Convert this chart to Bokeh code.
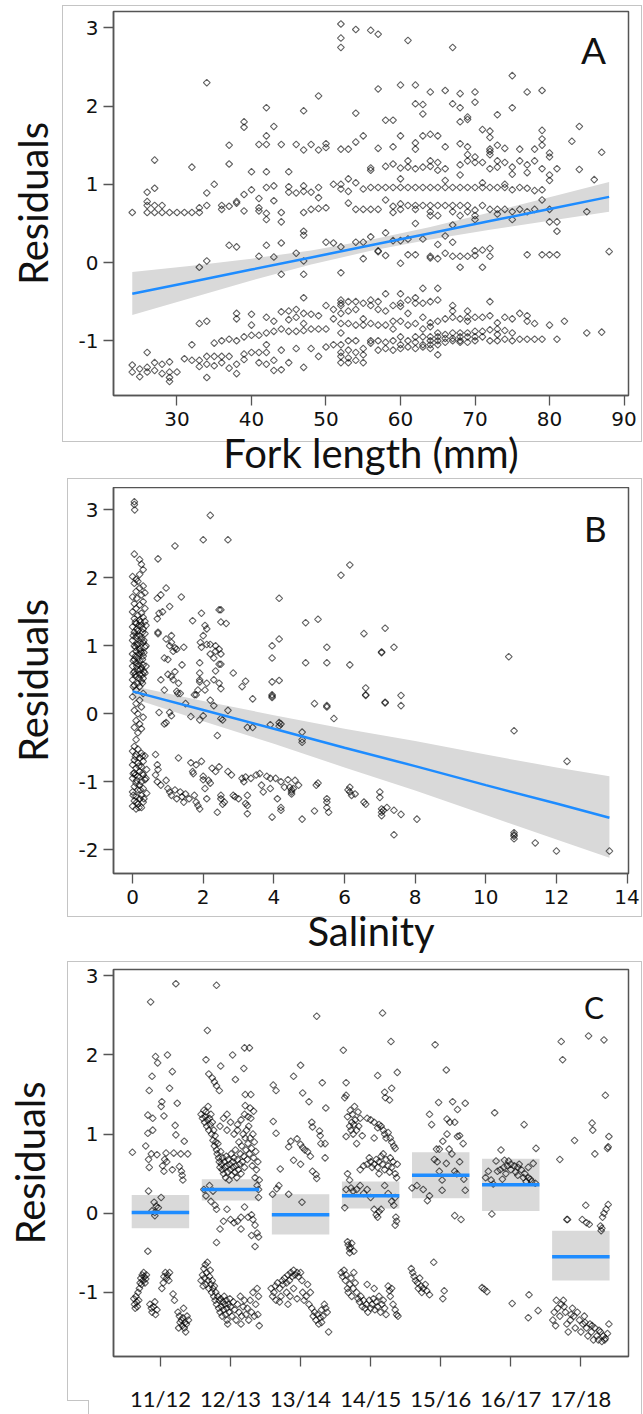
import numpy as np
from bokeh.plotting import figure
from bokeh.layouts import column
from bokeh.models import Range1d, FixedTicker, Label
from bokeh.embed import file_html
from bokeh.resources import INLINE

# ---------------- Panel A data (fork length mm, residual) ----------------
a_high = [(52,3.05),(52,2.87),(52,2.75),(54,2.98),(56,2.97),(57,2.92),(61,2.84),(67,2.75),
 (34,2.30),(75,2.39),(49,2.13),(57,2.22),(60,2.27),(62,2.27),(64,2.18),(66,2.20),(68,2.16),(70,2.18),(70,2.05),(77,2.18),(79,2.20),
 (42,1.98),(47,1.94),(54,1.91),(62,2.03),(63,2.02),(63,1.90),(67,2.03),(68,1.98),(73,1.89),(75,1.98),
 (39,1.80),(39,1.73),(43,1.74),(58,1.82),(59,1.82),(68,1.80),(69,1.83),(69,1.86),(71,1.70),(72,1.68),(72,1.60),(79,1.69),(79,1.58),(84,1.74),(83,1.55),
 (42,1.62),(41,1.51),(42,1.51),(44,1.51),(46,1.51),(47,1.44),(48,1.51),(49,1.44),(50,1.47),(50,1.52),(52,1.45),(53,1.45),(54,1.54),(55,1.62),
 (37,1.50),(57,1.46),(59,1.48),(60,1.62),(62,1.53),(62,1.45),(63,1.62),(64,1.64),(65,1.62),(66,1.48),(68,1.52),(69,1.48),(72,1.42),(72,1.45),
 (73,1.50),(74,1.46),(76,1.45),(78,1.45),(79,1.50),(80,1.40),(87,1.41)]
a_mid = [(27,1.31),(32,1.22),(37,1.26),(40,1.16),(42,1.16),(45,1.16),(56,1.18),(56,1.21),(58,1.23),(59,1.26),(60,1.21),(61,1.22),(61,1.30),
 (62,1.20),(63,1.22),(64,1.30),(64,1.23),(65,1.28),(65,1.18),(66,1.20),(68,1.25),(68,1.12),(69,1.30),(69,1.38),(70,1.28),(70,1.35),(71,1.28),
 (72,1.38),(72,1.20),(73,1.30),(73,1.22),(74,1.28),(75,1.13),(75,1.22),(76,1.30),(77,1.25),(77,1.15),(78,1.30),(79,1.20),(80,1.35),(80,1.12),
 (81,1.20),(84,1.19),(86,1.06),
 (26,0.90),(27,0.95),(34,0.89),(35,1.00),(39,0.87),(40,0.93),(41,0.82),(42,0.96),(43,0.98),(45,0.97),(45,0.90),(46,0.89),(47,0.98),(47,0.91),
 (48,0.90),(49,0.96),(49,0.83),(51,1.00),(52,1.00),(52,0.94),(53,1.07),(53,0.91),(54,1.02),(55,0.94),(56,0.96),(57,0.96),(58,0.96),(59,0.96),
 (60,1.07),(60,0.96),(61,0.96),(62,0.96),(63,0.96),(64,0.96),(65,0.96),(66,0.96),(67,0.96),(68,0.96),(69,0.96),(70,0.96),(71,0.96),(72,0.96),
 (73,0.96),(74,0.96),(75,0.93),(76,0.96),(77,0.95),(78,0.92),(79,0.93),(80,1.05),(66,1.05),(71,1.02),(74,1.00),
 (24,0.64),(26,0.64),(26,0.73),(26,0.78),(27,0.73),(27,0.64),(28,0.73),(28,0.64),(29,0.64),(30,0.64),(31,0.64),(32,0.64),(33,0.70),(33,0.64),
 (34,0.73),(36,0.68),(36,0.73),(37,0.72),(38,0.76),(38,0.78),(39,0.66),(41,0.70),(41,0.66),(42,0.63),(42,0.55),(43,0.79),(44,0.64),(44,0.52),
 (47,0.64),(48,0.68),(49,0.69),(50,0.70),(53,0.76),(54,0.68),(55,0.68),(56,0.68),(57,0.68),(58,0.80),(59,0.72),(59,0.64),(60,0.75),(60,0.68),
 (61,0.73),(62,0.73),(62,0.68),(63,0.73),(64,0.73),(64,0.65),(65,0.73),(65,0.60),(66,0.73),(67,0.73),(67,0.65),(68,0.73),(68,0.60),(69,0.73),
 (69,0.65),(70,0.67),(70,0.60),(71,0.73),(72,0.68),(73,0.68),(74,0.68),(75,0.65),(75,0.55),(76,0.68),(77,0.65),(78,0.68),(79,0.80),(80,0.68),
 (80,0.52),(81,0.52),(81,0.40),(85,0.65),(62,0.50),(64,0.60),(67,0.48),(70,0.55),(73,0.62),
 (37,0.22),(38,0.20),(41,0.08),(42,0.22),(43,0.07),(44,0.25),(46,0.12),(47,0.40),(47,0.35),(50,0.26),(51,0.25),(52,0.20),(54,0.26),(55,0.26),
 (56,0.33),(57,0.15),(58,0.38),(58,0.09),(59,0.28),(60,0.28),(61,0.30),(61,0.10),(62,0.10),(63,0.30),(64,0.08),(64,0.06),(65,0.05),(65,0.23),
 (66,0.34),(66,0.12),(67,0.26),(67,0.08),(68,0.08),(69,0.08),(70,0.09),(70,0.15),(71,0.16),(72,0.18),(72,0.08),(77,0.10),(79,0.10),(80,0.10),
 (81,0.10),(88,0.14),(33,-0.06),(34,0.02),(44,-0.15),(47,-0.15),(47,0.02),(52,-0.13),(55,0.05),(60,-0.01),(68,-0.06),(71,-0.06),(57,0.14)]
a_low = [(26,-1.15),(24,-1.31),(24,-1.40),(25,-1.36),(25,-1.46),(26,-1.34),(26,-1.40),(27,-1.28),(27,-1.38),(28,-1.30),(28,-1.42),(29,-1.27),
 (29,-1.40),(29,-1.47),(29,-1.52),(30,-1.40),(31,-1.23),(32,-1.05),(32,-1.25),(33,-1.25),(33,-1.33),(34,-1.20),(34,-1.30),(34,-1.47),(33,-0.78),
 (34,-0.75),(35,-1.03),(35,-1.20),(35,-1.32),(36,-1.00),(36,-1.20),(36,-1.28),(37,-0.98),(37,-1.20),(37,-1.35),(38,-0.65),(38,-0.72),(38,-1.00),
 (38,-1.30),(38,-1.42),(39,-0.95),(39,-1.17),(39,-1.24),(40,-0.66),(40,-0.80),(40,-0.93),(40,-1.15),(41,-0.93),(41,-1.15),(41,-1.28),(42,-0.70),
 (42,-0.90),(42,-1.05),(42,-1.15),(42,-1.30),(43,-0.75),(43,-0.88),(43,-1.25),(43,-1.38),(44,-0.63),(44,-0.85),(44,-1.12),(44,-1.37),(45,-0.62),
 (45,-0.73),(45,-0.88),(45,-1.28),(46,-0.60),(46,-0.70),(46,-0.88),(46,-1.10),(47,-0.45),(47,-0.65),(47,-0.78),(47,-0.87),(47,-1.34),(48,-0.66),
 (48,-0.85),(48,-1.10),(49,-0.68),(49,-0.85),(49,-1.20),(50,-0.55),(50,-0.85),(50,-1.08),(51,-0.60),(51,-0.72),(51,-1.05),
 (52,-0.48),(52,-0.52),(52,-0.55),(52,-0.65),(52,-0.78),(52,-0.90),(52,-1.05),(52,-1.15),(52,-1.20),(52,-1.28),
 (53,-0.50),(53,-0.62),(53,-0.78),(53,-1.00),(53,-1.12),(53,-1.22),(53,-1.28),(54,-0.50),(54,-0.60),(54,-0.80),(54,-1.00),(54,-1.15),(54,-1.25),
 (55,-0.52),(55,-0.72),(55,-0.80),(55,-1.10),(55,-1.18),(55,-1.28),(56,-0.48),(56,-0.55),(56,-0.78),(56,-1.00),(56,-1.03),
 (57,-0.50),(57,-0.60),(57,-0.80),(57,-1.00),(57,-1.12),(58,-0.40),(58,-0.62),(58,-0.80),(58,-1.02),(58,-1.10),
 (59,-0.55),(59,-0.75),(59,-0.85),(59,-1.00),(59,-1.12),(60,-0.40),(60,-0.52),(60,-0.56),(60,-0.75),(60,-0.95),(60,-1.05),(60,-1.10),
 (61,-0.48),(61,-0.65),(61,-0.80),(61,-1.00),(61,-1.08),(62,-0.45),(62,-0.52),(62,-0.78),(62,-0.95),(62,-1.02),(62,-1.10),
 (63,-0.33),(63,-0.52),(63,-0.70),(63,-0.85),(63,-0.95),(63,-1.05),(63,-1.08),(64,-0.50),(64,-0.77),(64,-0.82),(64,-0.95),(64,-1.00),(64,-1.05),
 (64,-1.10),(65,-0.33),(65,-0.48),(65,-0.75),(65,-0.90),(65,-0.95),(65,-1.00),(65,-1.05),(65,-1.18),(66,-0.72),(66,-0.92),(66,-0.97),(66,-1.02),
 (67,-0.55),(67,-0.62),(67,-0.70),(67,-0.90),(67,-0.97),(67,-1.00),(68,-0.72),(68,-0.90),(68,-0.95),(68,-1.00),(68,-1.02),
 (69,-0.62),(69,-0.70),(69,-0.75),(69,-0.90),(69,-0.95),(69,-1.02),(70,-0.70),(70,-0.88),(70,-0.95),(70,-1.00),(71,-0.70),(71,-0.88),(71,-0.95),
 (72,-0.50),(72,-0.68),(72,-0.86),(72,-1.00),(73,-0.77),(73,-0.85),(73,-0.92),(73,-1.00),(74,-0.70),(74,-0.87),(74,-0.98),(75,-0.72),(75,-0.90),
 (75,-1.00),(76,-0.65),(76,-0.98),(77,-0.68),(77,-0.75),(77,-0.98),(78,-0.78),(78,-0.98),(79,-0.98),(80,-0.80),(81,-0.98),(82,-0.75),(85,-0.90),(87,-0.89)]
a_fit_x = [24, 32, 40, 48, 56, 64, 72, 80, 88]
a_fit_y = [-0.40, -0.245, -0.09, 0.065, 0.22, 0.375, 0.53, 0.685, 0.84]
a_fit_lo = [-0.67, -0.45, -0.23, -0.025, 0.15, 0.295, 0.42, 0.535, 0.65]
a_fit_hi = [-0.12, -0.04, 0.05, 0.155, 0.29, 0.455, 0.64, 0.835, 1.03]

# ---------------- Panel B data (salinity, residual) ----------------
b_fresh = [(0.05,3.12),(0.05,3.08),(0.06,3.00),
 (0.05,2.35),(0.2,2.27),(0.25,2.2),(0.3,2.12),(0.2,2.05),(0.0,2.02),(0.1,1.98),(0.05,1.92),(0.15,1.95),(0.3,1.88),(0.2,1.85),(0.1,1.8),
 (0.35,1.78),(0.25,1.75),(0.0,1.72),(0.12,1.7),(0.3,1.65),(0.05,1.62),(0.2,1.6),(0.35,1.55),(0.1,1.55),(0.0,1.5),(0.25,1.48),(0.15,1.45),
 (0.3,1.42),(0.05,1.40),(0.2,1.38),(0.35,1.36),(0.1,1.33),(0.25,1.3),(0.0,1.28),(0.3,1.25),(0.15,1.22),(0.05,1.2),(0.35,1.18),(0.2,1.15),
 (0.1,1.12),(0.25,1.1),(0.0,1.08),(0.3,1.05),(0.15,1.02),(0.05,1.0),(0.35,0.98),(0.2,0.95),(0.1,0.92),(0.25,0.9),(0.0,0.88),(0.3,0.85),
 (0.15,0.82),(0.05,0.8),(0.2,0.78),(0.1,0.75),(0.3,0.72),(0.0,0.7),(0.25,0.68),(0.15,0.65),(0.05,0.62),(0.35,0.6),(0.2,0.58),(0.1,0.55),
 (0.3,0.52),(0.0,0.5),(0.25,0.48),(0.15,0.45),(0.05,0.42),(0.2,0.4),(0.1,0.35),(0.3,0.3),(0.0,0.25),(0.2,0.2),(0.1,0.15),(0.25,0.1),
 (0.05,0.05),(0.15,0.0),(0.3,-0.05),(0.1,-0.1),(0.2,-0.15),(0.05,-0.2),(0.25,-0.22),(0.15,-0.28),(0.1,-0.38),
 (0.08,1.35),(0.18,1.3),(0.28,1.2),(0.12,1.15),(0.22,1.05),(0.08,0.98),(0.32,0.9),(0.18,0.88),(0.28,0.8),(0.02,0.78),(0.12,0.7),(0.22,0.65),
 (0.32,0.62),(0.08,0.58),(0.18,0.52),(0.28,0.45),(0.02,0.4),(0.38,1.3),(0.38,1.0),(0.38,0.7),(0.02,1.15),(0.12,1.25),(0.22,1.35),(0.32,1.08),
 (0.08,0.85),(0.22,0.92),(0.12,1.02),(0.28,0.58),(0.18,0.72),(0.02,0.6),
 (0.05,-0.48),(0.15,-0.52),(0.0,-0.55),(0.25,-0.58),(0.1,-0.6),(0.35,-0.62),(0.2,-0.65),(0.05,-0.68),(0.3,-0.7),(0.15,-0.72),(0.0,-0.75),
 (0.25,-0.78),(0.1,-0.8),(0.4,-0.82),(0.2,-0.85),(0.05,-0.87),(0.3,-0.9),(0.15,-0.92),(0.0,-0.95),(0.35,-0.97),(0.25,-1.0),(0.1,-1.02),
 (0.2,-1.05),(0.05,-1.07),(0.3,-1.1),(0.15,-1.12),(0.0,-1.15),(0.4,-1.17),(0.25,-1.2),(0.1,-1.22),(0.2,-1.25),(0.05,-1.28),(0.3,-1.3),
 (0.15,-1.33),(0.0,-1.36),(0.25,-1.38),(0.1,-1.4),(0.08,-0.63),(0.18,-0.77),(0.28,-0.88),(0.12,-0.98),(0.22,-1.12),(0.02,-1.2),(0.32,-1.25),
 (0.18,-1.38),(0.38,-0.95),(0.08,-0.9),(0.28,-0.62),(0.12,-1.3),(0.02,-0.88)]
b_upper = [(0.72,2.28),(1.2,2.47),(2.2,2.92),(2.0,2.56),(2.7,2.56),
 (0.7,1.70),(0.8,1.75),(0.95,1.85),(1.05,1.58),(1.38,1.72),(0.75,1.48),(0.85,1.50),(0.7,1.40),(0.72,1.20),(0.72,1.18),(0.95,1.10),(1.1,1.15),
 (1.05,1.00),(1.1,1.05),(1.2,0.97),(1.15,0.92),(1.25,0.95),(1.45,0.98),(0.9,0.82),(1.0,0.80),(1.4,0.72),(1.0,0.58),(1.1,0.55),(1.2,0.62),
 (1.3,0.45),(1.15,0.50),(1.25,0.33),(1.28,0.30),(1.35,0.30),(0.9,0.35),(0.8,0.50),(1.7,1.37),(1.95,1.48),(2.05,1.30),(2.1,1.25),(2.0,1.15),
 (1.92,1.05),(1.95,0.98),(2.1,1.02),(2.2,1.02),(2.35,1.0),(2.35,0.92),(2.45,0.95),(2.5,1.53),(2.45,1.53),(2.5,1.35),(2.65,1.33),(2.5,0.88),
 (2.3,0.82),(2.2,0.88),(2.45,0.73),(2.5,0.73),(2.35,0.63),(2.3,0.50),(2.45,0.45),(2.5,0.37),(1.9,0.75),(1.9,0.6),(1.9,0.5),(1.9,0.47),
 (1.85,0.35),(1.75,0.28),(2.05,0.35),(2.1,0.45),(2.2,0.20),(2.3,0.12),(2.7,0.05),(2.85,0.60),(3.1,0.40),(3.2,0.48),(3.4,0.22),(1.1,-0.03),
 (1.05,0.02),(0.95,-0.13),(0.9,-0.15),(0.75,0.02),(1.65,-0.04),(1.9,-0.09),(2.0,-0.03),(2.5,-0.07),(2.55,-0.09),(2.4,-0.32),(1.5,0.15),
 (1.8,0.28),(3.25,-0.2),(3.4,-0.2),(3.9,-0.16),(4.2,-0.15),(4.15,-0.18),(4.15,-0.13),(4.8,-0.27),(4.8,-0.38),(4.8,-0.42),(3.95,0.47),
 (4.15,0.49),(3.95,0.28),(3.95,0.24),(3.95,0.26),(3.95,0.82),(3.95,1.00),(4.15,1.10),(4.15,1.70),(4.9,1.34),(5.25,1.39),(4.9,0.75),(5.5,0.75),
 (5.5,0.98),(5.15,0.15),(5.5,0.12),(5.5,0.10),(5.7,-0.07),(5.9,2.04),(6.15,2.19),(6.15,0.72),(6.55,1.18),(6.6,0.38),(6.6,0.28),(6.6,0.27),
 (7.05,0.91),(7.05,0.90),(7.15,1.26),(7.4,0.98),(7.15,0.17),(7.15,0.16),(7.6,0.27),(7.6,0.12),(10.65,0.84),(10.8,-0.25),(12.3,-0.70)]
b_lower = [(0.65,-0.60),(0.7,-0.75),(0.72,-0.82),(0.65,-0.90),(0.7,-1.00),(0.8,-1.05),(0.95,-0.98),(1.0,-1.10),(1.05,-1.15),(1.1,-1.20),
 (1.2,-1.12),(1.25,-1.25),(1.3,-0.65),(1.35,-1.15),(1.4,-1.22),(1.45,-1.30),(1.5,-1.18),(1.6,-1.25),(1.65,-0.72),(1.7,-0.85),(1.72,-0.88),
 (1.8,-0.75),(1.75,-1.20),(1.8,-1.30),(1.85,-1.35),(1.9,-1.40),(1.95,-0.70),(2.0,-0.92),(2.0,-0.97),(2.05,-1.10),(2.1,-1.25),(2.15,-0.98),
 (2.2,-1.02),(2.25,-0.80),(2.35,-0.85),(2.4,-1.45),(2.45,-0.78),(2.5,-1.20),(2.5,-1.25),(2.55,-1.33),(2.6,-1.30),(2.7,-0.85),(2.8,-0.90),
 (2.85,-1.20),(2.9,-1.22),(3.0,-1.25),(3.1,-0.95),(3.15,-1.00),(3.2,-0.93),(3.2,-1.32),(3.25,-1.35),(3.25,-1.47),(3.25,-1.20),(3.35,-0.95),
 (3.5,-0.90),(3.6,-0.88),(3.65,-1.05),(3.7,-1.15),(3.8,-0.92),(3.9,-0.95),(3.9,-1.10),(3.95,-1.52),(4.05,-0.95),(4.1,-1.25),(4.2,-1.38),
 (4.2,-1.42),(4.2,-1.00),(4.3,-1.08),(4.4,-0.97),(4.45,-1.08),(4.5,-1.12),(4.5,-1.15),(4.5,-1.18),(4.55,-1.10),(4.6,-0.98),(4.7,-1.05),
 (4.8,-1.55),(5.2,-1.05),(5.25,-1.02),(5.15,-1.43),(5.5,-1.30),(5.5,-1.38),(5.55,-1.45),(5.5,-1.25),(6.1,-1.12),(6.15,-1.08),(6.15,-1.15),
 (6.2,-1.20),(6.3,-1.18),(6.55,-1.30),(6.6,-1.33),(7.0,-1.15),(7.0,-1.23),(7.05,-1.40),(7.05,-1.45),(7.05,-1.50),(7.1,-1.42),(7.2,-1.38),
 (7.4,-1.42),(7.4,-1.78),(7.6,-1.48),(8.05,-1.55),(10.8,-1.75),(10.8,-1.78),(10.8,-1.80),(10.8,-1.84),(11.4,-1.90),(12.0,-2.02),(13.5,-2.02)]
b_fit_x = [0, 2, 4, 6, 8, 10, 12, 13.5]
b_fit_y = [0.33, 0.055, -0.22, -0.50, -0.77, -1.05, -1.32, -1.53]
b_fit_lo = [0.23, -0.11, -0.44, -0.79, -1.13, -1.49, -1.85, -2.12]
b_fit_hi = [0.41, 0.19, -0.02, -0.22, -0.40, -0.60, -0.79, -0.92]

# ---------------- Panel C data (season, jitter offset, residual) ----------------
seasons = ["11/12", "12/13", "13/14", "14/15", "15/16", "16/17", "17/18"]
c_mean = [0.01, 0.30, -0.02, 0.22, 0.48, 0.36, -0.55]
c_lo = [-0.19, 0.16, -0.27, 0.06, 0.19, 0.03, -0.85]
c_hi = [0.23, 0.43, 0.24, 0.40, 0.77, 0.69, -0.22]

c_1112 = [(-0.40,0.77),(-0.14,2.67),(0.22,2.90),(-0.07,1.98),(-0.04,1.90),(0.10,2.0),(-0.12,1.73),(0.17,1.79),(-0.16,1.55),(0.13,1.58),
 (0.02,1.41),(0.24,1.39),(0.01,1.35),(0.05,1.23),(-0.18,1.24),(-0.11,1.20),(0.21,1.11),(0.22,0.99),(0.34,0.91),(-0.18,1.01),(-0.11,1.05),
 (-0.21,0.85),(-0.13,0.75),(-0.05,0.74),(0.08,0.76),(0.19,0.76),(0.29,0.75),(0.39,0.75),(-0.17,0.68),(0.06,0.68),(0.09,0.65),(0.03,0.60),
 (-0.16,0.58),(0.27,0.59),(0.30,0.53),(0.31,0.48),(0.32,0.42),(0.17,0.55),(0.05,0.53),(-0.17,0.28),(0.01,0.20),(-0.09,0.14),(-0.06,0.09),
 (-0.03,0.07),(-0.08,0.01),(-0.08,-0.03),(-0.12,0.03),(-0.18,-0.48),
 (-0.38,-1.08),(-0.37,-1.15),(-0.36,-1.2),(-0.35,-1.05),(-0.34,-1.12),(-0.33,-1.18),(-0.32,-1.0),(-0.31,-1.1),(-0.3,-0.95),(-0.29,-0.88),
 (-0.28,-0.82),(-0.27,-0.9),(-0.26,-0.78),(-0.25,-0.85),(-0.24,-0.75),(-0.23,-0.8),(-0.22,-0.88),(-0.21,-0.83),(-0.2,-0.78),
 (-0.15,-1.15),(-0.13,-1.2),(-0.12,-1.25),(-0.1,-1.18),(-0.08,-1.12),(-0.07,-1.28),(-0.05,-1.22),
 (0.02,-0.95),(0.04,-0.88),(0.05,-0.8),(0.07,-0.75),(0.09,-0.82),(0.1,-0.78),(0.12,-0.85),(0.13,-0.75),(0.18,-1.02),(0.2,-1.1),
 (0.25,-1.25),(0.27,-1.3),(0.28,-1.38),(0.3,-1.35),(0.31,-1.42),(0.32,-1.32),(0.34,-1.45),(0.35,-1.38),(0.37,-1.4),(0.38,-1.3),(0.36,-1.5),
 (0.4,-1.35),(0.26,-1.45),(0.33,-1.2)]
c_1213 = [(-0.33,2.31),(-0.20,2.88),(-0.35,1.94),(-0.14,1.86),(0.03,2.0),(0.20,2.09),(0.27,2.09),(0.07,1.69),(0.19,1.83),(-0.31,1.76),
 (-0.26,1.71),(-0.23,1.66),(-0.20,1.61),(-0.16,1.55),(0.21,1.50),(0.29,1.50),(0.21,1.36),(0.28,1.33),(0.33,1.29),
 (-0.42,1.25),(-0.4,1.2),(-0.38,1.3),(-0.37,1.15),(-0.36,1.22),(-0.35,1.28),(-0.34,1.1),(-0.33,1.18),(-0.32,1.35),(-0.31,1.05),(-0.3,1.2),
 (-0.29,1.12),(-0.28,1.25),(-0.27,1.0),(-0.26,1.15),(-0.25,0.92),(-0.24,1.05),(-0.23,0.85),(-0.22,0.98),(-0.21,0.9),(-0.2,0.8),(-0.19,0.75),
 (-0.18,0.88),(-0.17,0.7),(-0.16,0.65),(-0.15,0.58),(-0.14,0.78),(-0.13,0.62),(-0.12,0.55),(-0.11,0.7),(-0.1,0.5),(-0.09,0.65),(-0.08,0.58),
 (-0.07,0.45),(-0.06,0.72),(-0.05,0.6),(-0.04,0.52),(-0.03,0.68),(-0.02,0.42),(-0.01,0.62),(0.0,0.55),(0.01,0.75),(0.02,0.48),(0.03,0.65),
 (0.04,0.58),(0.05,0.7),(0.06,0.52),(0.07,0.8),(0.08,0.6),(0.09,0.45),(0.1,0.68),(0.11,0.55),(0.12,0.9),(0.13,0.62),(0.14,0.75),(0.15,0.5),
 (0.16,0.85),(0.17,0.65),(0.18,1.0),(0.19,0.72),(0.2,0.58),(0.21,0.95),(0.22,0.8),(0.23,1.05),(0.24,0.68),(0.25,0.88),(0.26,1.1),(0.27,0.75),
 (0.28,0.95),(0.29,1.2),(0.3,0.82),(0.31,0.6),(0.32,1.0),(0.33,0.7),(0.34,0.9),(0.35,0.45),(0.36,0.78),(0.37,0.55),(0.38,0.35),(0.39,0.65),
 (0.4,0.3),(0.41,0.42),(-0.15,1.1),(-0.1,1.2),(-0.05,1.05),(0.0,1.15),(0.05,1.0),(0.1,1.12),(0.15,1.18),(0.2,1.25),(0.25,1.22),(-0.05,1.25),
 (0.1,1.05),(-0.38,0.3),(-0.35,0.22),(-0.3,0.35),(-0.28,0.15),(-0.25,0.28),(-0.22,0.1),(-0.2,0.05),(-0.15,-0.2),(-0.1,-0.1),(-0.05,0.05),
 (0.0,-0.08),(0.05,-0.12),(0.1,-0.1),(0.15,-0.05),(0.2,0.08),(0.25,-0.05),(0.3,-0.02),(0.32,-0.08),(0.35,-0.15),(0.38,-0.25),(0.4,-0.3),
 (0.35,-0.42),(0.3,-0.28),(-0.2,-0.37),(0.15,-0.2),(0.4,0.2),
 (-0.42,-0.85),(-0.4,-0.78),(-0.39,-0.92),(-0.38,-0.7),(-0.37,-0.82),(-0.36,-0.65),(-0.35,-0.9),(-0.34,-0.75),(-0.33,-0.62),(-0.32,-0.85),
 (-0.31,-0.95),(-0.3,-0.8),(-0.29,-0.72),(-0.28,-0.9),(-0.27,-1.0),(-0.26,-0.85),(-0.25,-0.95),(-0.24,-1.05),(-0.23,-0.92),(-0.22,-1.1),
 (-0.21,-1.0),(-0.2,-1.15),(-0.18,-1.05),(-0.17,-1.2),(-0.16,-1.1),(-0.15,-1.25),(-0.14,-1.08),(-0.13,-1.18),(-0.12,-1.3),(-0.11,-1.12),
 (-0.1,-1.22),(-0.09,-1.05),(-0.08,-1.15),(-0.07,-1.28),(-0.06,-1.1),(-0.05,-1.2),(-0.04,-1.4),(-0.03,-1.15),(-0.02,-1.25),(-0.01,-1.08),
 (0.0,-1.18),(0.02,-1.3),(0.04,-1.12),(0.06,-1.22),(0.08,-1.35),(0.1,-1.15),(0.12,-1.25),(0.14,-1.05),(0.16,-1.3),(0.18,-1.18),(0.2,-1.1),
 (0.22,-1.28),(0.24,-1.2),(0.26,-1.35),(0.28,-1.1),(0.3,-1.25),(0.32,-1.0),(0.34,-1.3),(0.36,-1.15),(0.38,-0.95),(0.4,-1.05),(0.41,-1.42),
 (0.39,-1.28),(-0.05,-1.35),(0.15,-1.4)]
c_1314 = [(0.23,2.49),(0.0,1.87),(-0.10,1.73),(-0.39,1.62),(-0.35,1.55),(0.31,1.65),(0.03,1.52),(0.12,1.41),(0.36,1.33),(0.16,1.15),
 (0.17,1.09),(0.27,1.04),(0.28,0.98),(-0.35,1.01),(-0.39,1.16),(-0.14,0.91),(-0.05,0.94),(-0.17,0.84),(0.0,0.87),(0.03,0.83),(0.06,0.80),
 (0.10,0.78),(0.35,0.88),(0.29,0.88),(-0.10,0.67),(0.0,0.62),(0.14,0.72),(0.35,0.70),(0.17,0.53),(0.22,0.49),(0.23,0.44),(-0.29,0.56),
 (-0.31,0.35),(-0.34,0.31),(-0.40,0.24),(-0.17,0.24),(0.02,0.14),
 (-0.42,-0.95),(-0.4,-1.05),(-0.38,-1.0),(-0.36,-0.92),(-0.35,-1.1),(-0.33,-0.88),(-0.3,-0.95),(-0.28,-1.05),(-0.26,-0.85),(-0.25,-0.9),
 (-0.23,-0.82),(-0.2,-0.88),(-0.18,-0.78),(-0.16,-0.85),(-0.14,-0.75),(-0.12,-0.8),(-0.1,-0.72),(-0.08,-0.78),(-0.05,-0.75),(-0.03,-0.8),
 (0.0,-0.75),(0.02,-0.85),(-0.2,-1.0),(-0.15,-1.05),(-0.1,-0.95),(-0.05,-1.08),(0.03,-1.0),(0.05,-1.1),(0.08,-1.05),(0.1,-0.9),(0.12,-1.15),
 (0.14,-1.0),(0.16,-1.2),(0.18,-1.3),(0.2,-1.25),(0.22,-1.35),(0.24,-1.28),(0.26,-1.4),(0.28,-1.32),(0.3,-1.22),(0.32,-1.3),(0.34,-1.15),
 (0.36,-1.2),(0.38,-1.25),(0.4,-1.5),(0.3,-1.38),(-0.18,-1.15),(-0.3,-1.12)]
c_1415 = [(0.17,2.53),(-0.39,2.06),(0.29,2.17),(0.1,1.74),(0.38,1.78),(-0.35,1.65),(-0.35,1.49),(-0.37,1.46),(0.3,1.58),(0.2,1.53),
 (0.21,1.46),(0.27,1.43),(-0.33,1.22),(-0.3,1.1),(-0.29,1.3),(-0.28,1.05),(-0.27,1.15),(-0.26,1.25),(-0.25,1.0),(-0.24,1.12),(-0.23,1.35),
 (-0.22,1.18),(-0.2,1.05),(-0.18,1.28),(-0.17,1.1),(-0.15,1.2),(-0.12,0.98),(-0.35,0.97),(-0.05,1.2),(0.0,1.18),(0.05,1.15),(0.1,1.08),
 (0.12,1.12),(0.15,1.1),(0.18,1.05),(0.2,1.0),(0.22,0.95),(0.25,1.02),(0.28,0.95),(0.3,0.9),(0.33,0.85),(-0.2,0.88),(0.05,0.95),(0.35,0.82),
 (-0.1,0.6),(-0.05,0.62),(0.0,0.65),(0.02,0.58),(0.05,0.62),(0.08,0.68),(0.1,0.58),(0.12,0.65),(0.15,0.72),(0.17,0.62),(0.2,0.55),(0.22,0.68),
 (0.25,0.6),(0.27,0.52),(0.3,0.58),(0.32,0.65),(0.35,0.5),(0.37,0.45),(0.38,0.62),(-0.02,0.7),(0.18,0.75),(0.28,0.7),(-0.15,0.55),(0.12,0.5),
 (-0.37,0.07),(-0.35,0.3),(-0.33,0.5),(-0.3,0.42),(-0.28,0.32),(-0.25,0.28),(-0.2,0.3),(-0.15,0.35),(-0.1,0.25),(0.0,0.2),(0.05,0.05),
 (0.08,-0.02),(0.1,-0.05),(0.12,0.02),(0.15,0.05),(0.2,0.35),(0.25,0.25),(0.3,0.15),(0.33,0.1),(0.35,0.2),(0.36,-0.05),(0.37,-0.1),
 (0.35,-0.15),(-0.05,0.3),(-0.33,-0.36),(-0.32,-0.4),(-0.3,-0.45),(-0.29,-0.43),(-0.3,-0.5),(-0.27,-0.38),(-0.24,-0.48),
 (-0.42,-0.75),(-0.4,-0.8),(-0.38,-0.72),(-0.36,-0.85),(-0.35,-0.78),(-0.33,-0.95),(-0.32,-1.0),(-0.3,-0.9),(-0.28,-0.82),(-0.27,-1.05),
 (-0.25,-0.95),(-0.24,-0.75),(-0.22,-0.88),(-0.2,-1.0),(-0.18,-1.08),(-0.16,-1.12),(-0.14,-1.05),(-0.12,-1.18),(-0.1,-1.1),(-0.08,-1.2),
 (-0.06,-1.15),(-0.04,-1.25),(-0.02,-1.1),(0.0,-1.2),(0.02,-1.15),(0.04,-1.08),(0.06,-1.22),(0.08,-1.12),(0.1,-1.18),(0.12,-1.05),
 (0.14,-1.25),(0.16,-1.15),(0.18,-1.1),(0.2,-1.2),(0.22,-1.28),(0.25,-0.92),(0.27,-0.98),(0.28,-1.05),(0.3,-0.95),(0.32,-1.15),(0.35,-1.22),
 (0.37,-1.28),(0.39,-1.3),(-0.05,-0.9),(0.05,-0.95)]
c_1516 = [(-0.08,2.13),(0.08,1.81),(-0.16,1.25),(-0.03,1.40),(0.17,1.41),(0.35,1.39),(0.24,1.31),(-0.13,1.12),(0.09,1.19),(0.13,1.15),
 (0.20,1.15),(0.09,1.0),(0.24,0.97),(0.27,0.98),(0.32,0.88),(0.03,0.91),(-0.06,0.81),(-0.02,0.81),(0.12,0.81),(0.16,0.75),(-0.09,0.68),
 (-0.05,0.65),(0.08,0.63),(0.27,0.65),(-0.02,0.53),(0.20,0.53),(0.23,0.50),(0.33,0.43),(-0.34,0.35),(-0.41,0.32),(-0.25,0.30),(0.02,0.42),
 (0.02,0.29),(-0.16,0.22),(-0.19,0.16),(0.35,0.29),(0.20,-0.03),(0.29,-0.08),(-0.10,-0.62),
 (-0.42,-0.70),(-0.40,-0.75),(-0.38,-0.80),(-0.36,-0.85),(-0.33,-0.88),(-0.30,-0.82),(-0.28,-0.92),(-0.25,-0.95),(-0.22,-0.90),(-0.20,-0.98),
 (-0.27,-1.00),(-0.32,-0.95),(-0.16,-1.03),(0.03,-1.08),(0.05,-0.98)]
c_1617 = [(-0.23,1.27),(0.19,1.12),(0.36,0.82),(-0.14,0.80),(-0.21,0.66),(-0.09,0.67),(-0.32,0.53),(-0.36,0.45),(-0.28,0.42),(-0.12,0.43),
 (-0.19,0.53),(-0.15,0.55),(-0.1,0.58),(-0.05,0.6),(0.0,0.62),(0.05,0.6),(0.0,0.55),(0.1,0.58),(0.15,0.55),(0.2,0.5),(0.25,0.45),(0.3,0.4),
 (0.32,0.63),(0.28,0.43),(0.18,0.45),(0.22,0.4),(0.1,0.48),(-0.07,0.5),(0.07,0.52),(-0.25,0.37),(0.35,0.38),(0.25,0.58),(0.12,0.62),
 (-0.03,0.66),(-0.27,-0.01),
 (-0.41,-0.94),(-0.38,-0.96),(-0.34,-0.99),(0.02,-1.14),(0.26,-1.03),(0.25,-1.32),(0.39,-1.23)]
c_1718 = [(-0.28,2.17),(-0.26,1.94),(0.11,2.24),(0.33,2.19),(0.35,1.49),(0.16,1.14),(0.17,1.05),(-0.09,0.92),(0.40,0.97),(0.38,0.82),
 (0.39,0.84),(0.20,0.75),(-0.30,0.68),(0.39,0.11),(0.36,0.05),(0.33,0.0),(0.07,0.10),(-0.20,-0.08),(-0.19,-0.08),(0.02,-0.08),(0.08,-0.12),
 (0.12,-0.14),(0.28,-0.16),(0.29,-0.22),(0.31,-0.05),(0.30,-0.19),
 (-0.4,-1.35),(-0.38,-1.25),(-0.35,-1.1),(-0.33,-1.2),(-0.3,-1.3),(-0.28,-1.15),(-0.25,-1.1),(-0.22,-1.25),(-0.2,-1.4),(-0.18,-1.5),
 (-0.15,-1.35),(-0.12,-1.2),(-0.1,-1.3),(-0.08,-1.45),(-0.05,-1.25),(-0.02,-1.35),(0.0,-1.5),(0.03,-1.4),(0.05,-1.3),(0.08,-1.45),(0.1,-1.55),
 (0.13,-1.4),(0.15,-1.5),(0.18,-1.6),(0.2,-1.45),(0.23,-1.55),(0.25,-1.6),(0.28,-1.5),(0.3,-1.62),(0.32,-1.55),(0.35,-1.58),(0.38,-1.52),
 (0.4,-1.4),(-0.36,-1.42),(-0.24,-1.18),(-0.14,-1.28),(0.06,-1.38),(0.16,-1.42),(0.26,-1.48),(0.34,-1.6)]
c_groups = [c_1112, c_1213, c_1314, c_1415, c_1516, c_1617, c_1718]

# ---------------- styling helpers ----------------
BOX = "#555555"
BLUE = "#1E8CFF"
BAND = "#D9D9D9"
LABEL_FONT = "Lato"
NEG = {-1: "-1", -2: "-2"}


def make_fig(height, xr, yr, left, right, top, bottom):
    p = figure(width=643, height=height, x_range=Range1d(*xr), y_range=Range1d(*yr),
               output_backend="svg", toolbar_location=None,
               min_border_left=left, min_border_right=right,
               min_border_top=top, min_border_bottom=bottom)
    p.grid.visible = False
    p.outline_line_color = BOX
    p.outline_line_width = 1.5
    p.border_fill_color = None
    p.background_fill_color = "white"
    for ax in (p.xaxis, p.yaxis):
        ax.axis_line_color = BOX
        ax.axis_line_width = 1.5
        ax.major_tick_line_color = BOX
        ax.major_tick_line_width = 1.3
        ax.major_tick_out = 10
        ax.major_tick_in = 0
        ax.minor_tick_line_color = None
        ax.major_label_text_font = "DejaVu Sans"
        ax.major_label_text_font_size = "20px"
        ax.major_label_text_color = "#111111"
        ax.axis_label_text_font = LABEL_FONT
        ax.axis_label_text_font_size = "40px"
        ax.axis_label_text_font_style = "normal"
        ax.axis_label_text_color = "#111111"
    p.xaxis.major_label_standoff = 6
    p.yaxis.major_label_standoff = 5
    p.yaxis.major_label_overrides = NEG
    p.yaxis.axis_label = "Residuals"
    p.yaxis.axis_label_standoff = 19
    return p


def pts(p, xs, ys):
    p.scatter(xs, ys, marker="square", angle=np.pi / 4, size=4.8,
              fill_color=None, line_color="black", line_alpha=0.62, line_width=1.1)


# ---------------- Panel A ----------------
pA = make_fig(487, (21.48, 90.6), (-1.70, 3.21), 110, 14, 11, 92)
pA.xaxis.ticker = FixedTicker(ticks=[30, 40, 50, 60, 70, 80, 90])
pA.yaxis.ticker = FixedTicker(ticks=[-1, 0, 1, 2, 3])
pA.xaxis.axis_label = "Fork length (mm)"
pA.xaxis.axis_label_standoff = 0
pA.varea(a_fit_x, a_fit_lo, a_fit_hi, fill_color=BAND)
a_all = a_high + a_mid + a_low
pts(pA, [q[0] for q in a_all], [q[1] for q in a_all])
pA.line(a_fit_x, a_fit_y, line_color=BLUE, line_width=2.5)
pA.add_layout(Label(x=87.6, y=2.73, text="A", text_align="right", text_baseline="alphabetic",
                    text_font=LABEL_FONT, text_font_size="37px", text_color="#111111"))

# ---------------- Panel B ----------------
pB = make_fig(473, (-0.54, 14.04), (-2.35, 3.33), 110, 15, 0, 87)
pB.xaxis.ticker = FixedTicker(ticks=[0, 2, 4, 6, 8, 10, 12, 14])
pB.yaxis.ticker = FixedTicker(ticks=[-2, -1, 0, 1, 2, 3])
pB.xaxis.axis_label = "Salinity"
pB.xaxis.axis_label_standoff = 0
pB.varea(b_fit_x, b_fit_lo, b_fit_hi, fill_color=BAND)
b_all = b_fresh + b_upper + b_lower
pts(pB, [q[0] for q in b_all], [q[1] for q in b_all])
pB.line(b_fit_x, b_fit_y, line_color=BLUE, line_width=2.5)
pB.add_layout(Label(x=13.42, y=2.74, text="B", text_align="right", text_baseline="alphabetic",
                    text_font=LABEL_FONT, text_font_size="35px", text_color="#111111"))

# ---------------- Panel C ----------------
pC = make_fig(454, (0.33, 7.68), (-1.81, 3.08), 113, 10, 9, 58)
pC.xaxis.ticker = FixedTicker(ticks=list(range(1, len(seasons) + 1)))
pC.xaxis.major_label_overrides = {i + 1: s for i, s in enumerate(seasons)}
pC.xaxis.major_label_text_font = LABEL_FONT
pC.xaxis.major_label_text_font_size = "22px"
pC.xaxis.major_label_standoff = 18
pC.yaxis.ticker = FixedTicker(ticks=[-1, 0, 1, 2, 3])
pC.yaxis.axis_label_standoff = 22
idx = np.arange(1, len(seasons) + 1)
pC.quad(left=idx - 0.41, right=idx + 0.41, bottom=c_lo, top=c_hi, fill_color=BAND, line_color=None)
cx, cy = [], []
for i, grp in enumerate(c_groups):
    for off, yv in grp:
        cx.append(i + 1 + off)
        cy.append(yv)
pts(pC, cx, cy)
pC.segment(x0=idx - 0.41, x1=idx + 0.41, y0=c_mean, y1=c_mean, line_color=BLUE, line_width=3.5)
pC.add_layout(Label(x=7.33, y=2.60, text="C", text_align="right", text_baseline="alphabetic",
                    text_font=LABEL_FONT, text_font_size="30px", text_color="#111111"))

# light-grey panel frames of the original figure, drawn as page background lines
frame_lines = [(62, 5, 1, 436), (62, 5, 580, 1), (62, 441, 580, 1), (641, 5, 1, 437),
               (67, 478, 1, 438), (67, 478, 575, 1), (67, 916, 575, 1), (641, 478, 1, 439),
               (67, 961, 1, 440), (67, 961, 575, 1), (641, 961, 1, 453), (67, 1400, 22, 1), (88, 1400, 1, 14)]
grad = "linear-gradient(#C4C4C4, #C4C4C4)"
bg_style = {
    "background-color": "white",
    "background-image": ", ".join([grad] * len(frame_lines)),
    "background-position": ", ".join(f"{x}px {y}px" for x, y, w, h in frame_lines),
    "background-size": ", ".join(f"{w}px {h}px" for x, y, w, h in frame_lines),
    "background-repeat": "no-repeat",
}

layout = column(pA, pB, pC, spacing=0, styles=bg_style)
open("out.html", "w").write(file_html(layout, INLINE))
